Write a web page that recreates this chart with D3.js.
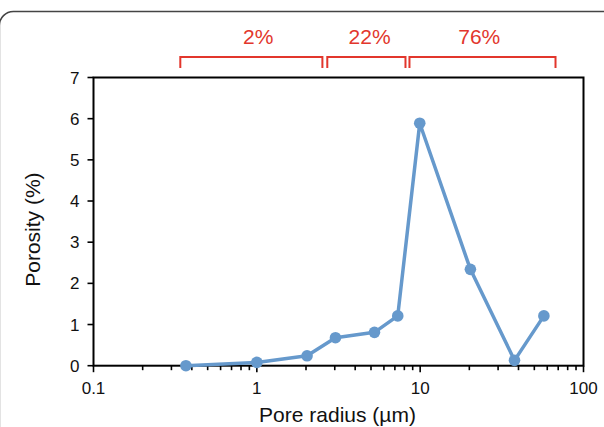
<!DOCTYPE html>
<html><head><meta charset="utf-8">
<script src="https://cdn.jsdelivr.net/npm/d3@7"></script>
<style>body{margin:0;background:#fff}svg{display:block}</style></head><body>
<script>
// Data
const radius   = [0.368, 1.0, 2.03, 3.03, 5.25, 7.29, 9.94, 20.3, 37.8, 57.2];
const porosity = [0.0, 0.08, 0.24, 0.68, 0.81, 1.21, 5.89, 2.34, 0.13, 1.21];
const xTicks = [0.1, 1, 10, 100];
const xTickLabels = ["0.1", "1", "10", "100"];
const yTicks = [0, 1, 2, 3, 4, 5, 6, 7];
const bracketStart = [0.34, 2.70, 8.6];
const bracketEnd   = [2.52, 8.13, 67.4];
const bracketLabels = ["2%", "22%", "76%"];
const bracketLabelAt = [1.02, 4.9, 23];

const W = 604, H = 427;
const svg = d3.select("body").append("svg").attr("width", W).attr("height", H);

// outer rounded frame (left edge sits just off-canvas)
svg.append("rect").attr("x", -0.6).attr("y", 11.5).attr("width", 700).attr("height", 600)
  .attr("rx", 14).attr("fill", "none").attr("stroke", "#444").attr("stroke-width", 1.5);

const x = d3.scaleLog().domain([0.1, 100]).range([93.5, 583.5]);
const y = d3.scaleLinear().domain([0, 7]).range([365.7, 77.5]);
const font = "'Liberation Sans', Arial, Helvetica, sans-serif";

// plot box
svg.append("rect").attr("x", x(0.1)).attr("y", y(7))
  .attr("width", x(100) - x(0.1)).attr("height", y(0) - y(7))
  .attr("fill", "none").attr("stroke", "#000").attr("stroke-width", 2);

// y ticks
const gy = svg.append("g");
yTicks.forEach(v => {
  gy.append("line").attr("x1", x(0.1) - 6).attr("x2", x(0.1)).attr("y1", y(v)).attr("y2", y(v))
    .attr("stroke", "#000").attr("stroke-width", 1.6);
  gy.append("text").attr("x", x(0.1) - 14).attr("y", y(v)).attr("dy", "0.36em")
    .attr("text-anchor", "end").attr("font-family", font).attr("font-size", 17)
    .attr("fill", "#111").text(v);
});

// x ticks (major + minor)
const gx = svg.append("g");
const minor = [];
[0.1, 1, 10].forEach(d => { for (let k = 2; k <= 9; k++) minor.push(d * k); });
minor.forEach(v => {
  gx.append("line").attr("x1", x(v)).attr("x2", x(v)).attr("y1", y(0)).attr("y2", y(0) + 4.5)
    .attr("stroke", "#000").attr("stroke-width", 1.6);
});
xTicks.forEach((v, i) => {
  gx.append("line").attr("x1", x(v)).attr("x2", x(v)).attr("y1", y(0)).attr("y2", y(0) + 6.5)
    .attr("stroke", "#000").attr("stroke-width", 1.6);
  gx.append("text").attr("x", x(v)).attr("y", 394).attr("text-anchor", "middle")
    .attr("font-family", font).attr("font-size", 17).attr("fill", "#111").text(xTickLabels[i]);
});

// axis titles
svg.append("text").attr("x", (257 + 418) / 2).attr("y", 422).attr("text-anchor", "middle")
  .attr("font-family", font).attr("font-size", 21).attr("fill", "#111").text("Pore radius (µm)");
svg.append("text").attr("transform", "translate(40," + ((y(0) + y(7)) / 2 + 8) + ") rotate(-90)")
  .attr("text-anchor", "middle").attr("font-family", font).attr("font-size", 21)
  .attr("fill", "#111").text("Porosity (%)");

// brackets
const red = "#e2362c";
bracketStart.forEach((s, i) => {
  const x0 = x(s), x1 = x(bracketEnd[i]);
  svg.append("path").attr("d", `M${x0},68 V57 H${x1} V68`)
    .attr("fill", "none").attr("stroke", red).attr("stroke-width", 2);
  svg.append("text").attr("x", x(bracketLabelAt[i])).attr("y", 44).attr("text-anchor", "middle")
    .attr("font-family", font).attr("font-size", 21).attr("fill", red).text(bracketLabels[i]);
});

// series
const data = radius.map((r, i) => ({ r, p: porosity[i] }));
const blue = "#6699cc";
svg.append("path").datum(data)
  .attr("d", d3.line().x(d => x(d.r)).y(d => y(d.p)))
  .attr("fill", "none").attr("stroke", blue).attr("stroke-width", 3.5).attr("stroke-linejoin", "round");
svg.selectAll("circle.pt").data(data).enter().append("circle")
  .attr("cx", d => x(d.r)).attr("cy", d => y(d.p)).attr("r", 5.8).attr("fill", blue);
</script>
</body></html>
